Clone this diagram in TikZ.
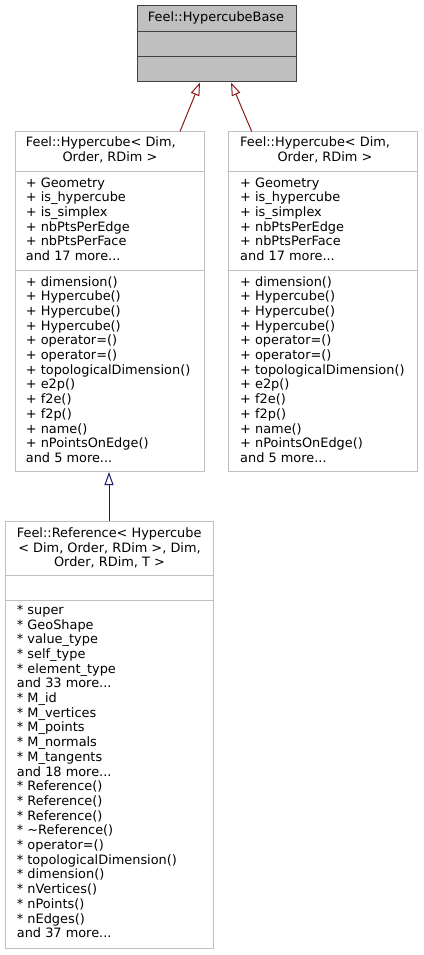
\documentclass[tikz,border=0pt]{standalone}
\usepackage{fontspec}
\setmainfont{DejaVu Sans}
\usetikzlibrary{arrows.meta}

\definecolor{basefill}{HTML}{BFBFBF}
\definecolor{baseedge}{HTML}{404040}
\definecolor{boxedge}{HTML}{BFBFBF}
\definecolor{inhred}{HTML}{8B1A1A}
\definecolor{inhblue}{HTML}{191970}

\tikzset{
  umlbox/.style={draw=boxedge, fill=white, line width=1pt, inner sep=0pt, anchor=north west},
  umltext/.style={inner sep=0pt, font=\fontsize{12.9}{14.7}\selectfont},
  % mehrzeilige Knoten: base = Grundlinie der letzten Zeile
  members/.style={umltext, align=left, anchor=base west},
  headline/.style={umltext, anchor=base west},
  title/.style={umltext, align=center, anchor=base},
  sepline/.style={draw=boxedge, line width=1pt},
  inherit/.style={line width=1pt, -{Triangle[open,length=13pt,width=9pt]}}
}

\begin{document}
\begin{tikzpicture}[x=1pt,y=-1pt]
	\useasboundingbox (0,0) rectangle (423,955);

	% Feel::HypercubeBase
	\node[umlbox, fill=basefill, draw=baseedge, minimum width=159pt, minimum height=76pt] (base) at (136.5,5.5) {};
	\draw[draw=baseedge, line width=1pt] (base.west |- 0,31.5) -- (base.east |- 0,31.5);
	\draw[draw=baseedge, line width=1pt] (base.west |- 0,56.7) -- (base.east |- 0,56.7);
	\node[title] (baseTitle) at (216,22) {Feel::HypercubeBase};

	% Feel::Hypercube, linke Box
	\node[umlbox, minimum width=189pt, minimum height=339.5pt] (hcA) at (14.5,131.5) {};
	\draw[sepline] (hcA.west |- 0,171.7) -- (hcA.east |- 0,171.7);
	\draw[sepline] (hcA.west |- 0,270) -- (hcA.east |- 0,270);
	\node[headline] (hcAhead) at (25.7,146.7) {Feel::Hypercube< Dim,};
	\node[title] (hcAtitle) at (110,161.7) {Order, RDim >};
	\node[members] (hcAattr) at (25.7,260.5) {+ Geometry\\+ is\_hypercube\\+ is\_simplex\\+ nbPtsPerEdge\\+ nbPtsPerFace\\and 17 more...};
	\node[members] (hcAops) at (25.7,462.4) {+ dimension()\\+ Hypercube()\\+ Hypercube()\\+ Hypercube()\\+ operator=()\\+ operator=()\\+ topologicalDimension()\\+ e2p()\\+ f2e()\\+ f2p()\\+ name()\\+ nPointsOnEdge()\\and 5 more...};

	% Feel::Hypercube, rechte Box
	\node[umlbox, minimum width=189.5pt, minimum height=339.5pt] (hcB) at (227.5,131.5) {};
	\draw[sepline] (hcB.west |- 0,171.7) -- (hcB.east |- 0,171.7);
	\draw[sepline] (hcB.west |- 0,270) -- (hcB.east |- 0,270);
	\node[headline] (hcBhead) at (240,146.7) {Feel::Hypercube< Dim,};
	\node[title] (hcBtitle) at (325,161.7) {Order, RDim >};
	\node[members] (hcBattr) at (240,260.5) {+ Geometry\\+ is\_hypercube\\+ is\_simplex\\+ nbPtsPerEdge\\+ nbPtsPerFace\\and 17 more...};
	\node[members] (hcBops) at (240,462.4) {+ dimension()\\+ Hypercube()\\+ Hypercube()\\+ Hypercube()\\+ operator=()\\+ operator=()\\+ topologicalDimension()\\+ e2p()\\+ f2e()\\+ f2p()\\+ name()\\+ nPointsOnEdge()\\and 5 more...};

	% Feel::Reference
	\node[umlbox, minimum width=208.3pt, minimum height=427.5pt] (ref) at (5,520.5) {};
	\draw[sepline] (ref.west |- 0,575.3) -- (ref.east |- 0,575.3);
	\draw[sepline] (ref.west |- 0,600) -- (ref.east |- 0,600);
	\node[headline] (refhead) at (16.7,537.7) {Feel::Reference< Hypercube};
	\node[title] (reftitle) at (109.5,566.7) {< Dim, Order, RDim >, Dim,\\Order, RDim, T >};
	\node[members] (refmem) at (16.7,937.7) {* super\\* GeoShape\\* value\_type\\* self\_type\\* element\_type\\and 33 more...\\* M\_id\\* M\_vertices\\* M\_points\\* M\_normals\\* M\_tangents\\and 18 more...\\* Reference()\\* Reference()\\* Reference()\\* \textasciitilde Reference()\\* operator=()\\* topologicalDimension()\\* dimension()\\* nVertices()\\* nPoints()\\* nEdges()\\and 37 more...};

	% Vererbung
	\draw[inherit, inhred] (hcA.north -| 180,0) -- (base.south -| 200,0);
	\draw[inherit, inhred] (hcB.north -| 251.7,0) -- (base.south -| 231,0);
	\draw[inherit, inhblue] (ref.north -| 109,0) -- (hcA.south -| 109,0);
\end{tikzpicture}
\end{document}
